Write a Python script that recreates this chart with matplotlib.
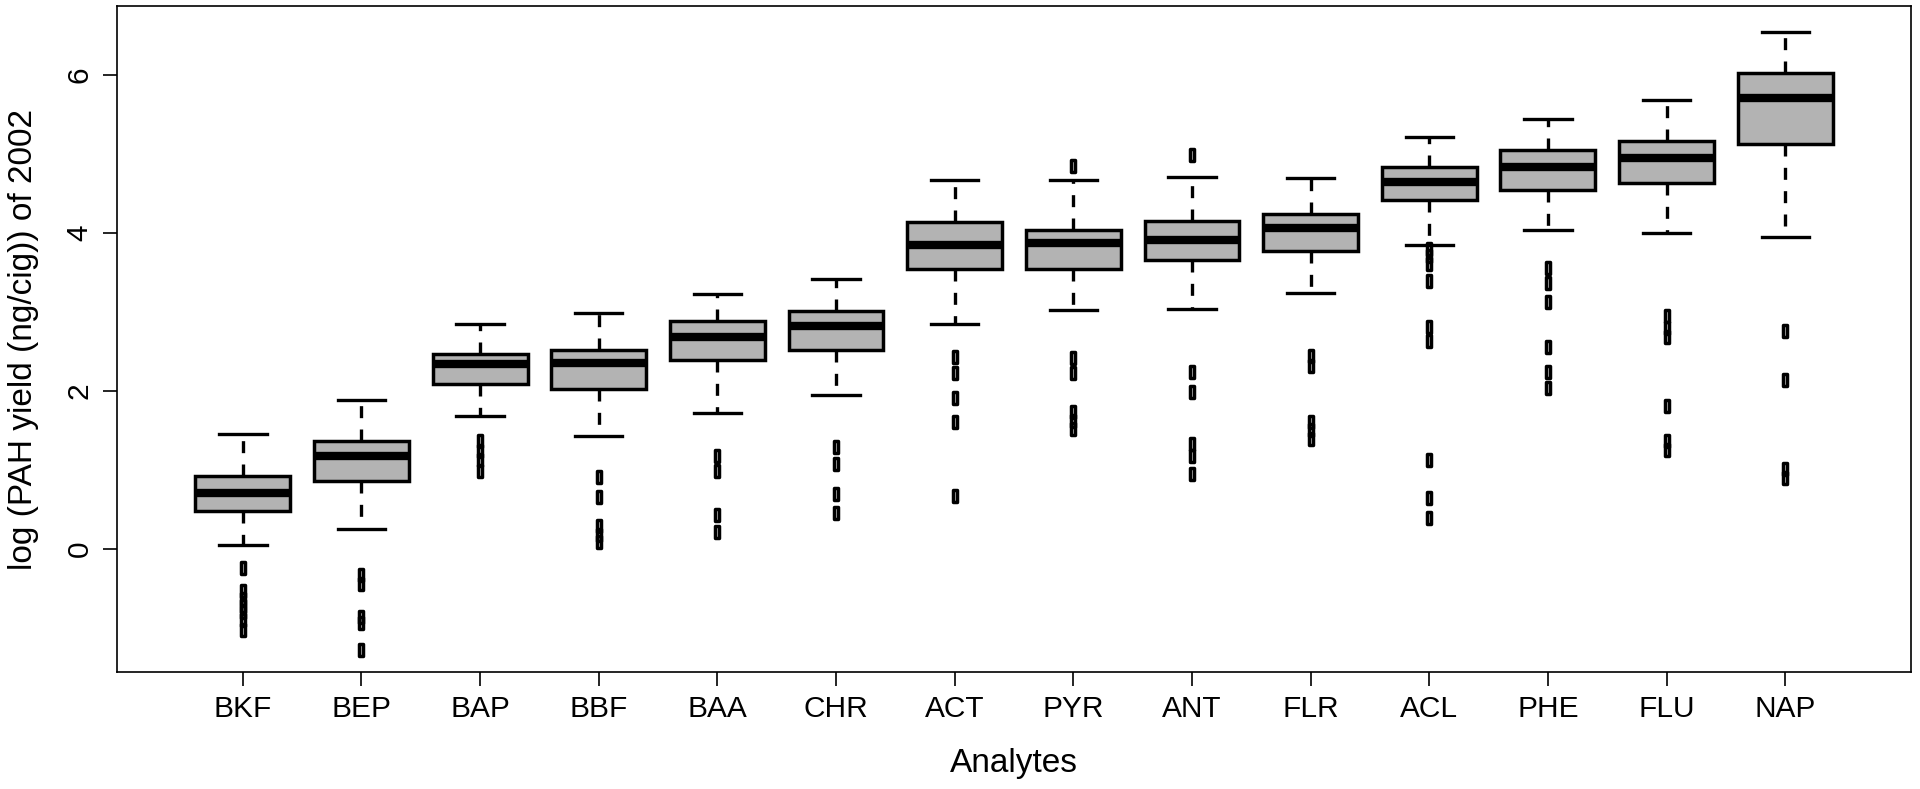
import matplotlib.pyplot as plt
from matplotlib.path import Path
from matplotlib.markers import MarkerStyle

# Box statistics (log PAH yield, ng/cig, 2002)
analytes = ['BKF', 'BEP', 'BAP', 'BBF', 'BAA', 'CHR', 'ACT',
            'PYR', 'ANT', 'FLR', 'ACL', 'PHE', 'FLU', 'NAP']
whis_lo = [0.05, 0.25, 1.68, 1.43, 1.72, 1.94, 2.84, 3.02, 3.03, 3.24, 3.84, 4.03, 4.00, 3.94]
q1 = [0.48, 0.86, 2.08, 2.02, 2.39, 2.51, 3.54, 3.54, 3.65, 3.77, 4.42, 4.54, 4.63, 5.12]
median = [0.71, 1.17, 2.34, 2.35, 2.68, 2.82, 3.85, 3.87, 3.91, 4.06, 4.64, 4.83, 4.94, 5.71]
q3 = [0.92, 1.36, 2.47, 2.51, 2.88, 3.01, 4.13, 4.03, 4.15, 4.24, 4.83, 5.05, 5.16, 6.02]
whis_hi = [1.45, 1.88, 2.84, 2.98, 3.23, 3.41, 4.67, 4.67, 4.70, 4.69, 5.21, 5.44, 5.68, 6.54]
outliers = [
    [-0.24, -0.53, -0.63, -0.72, -0.80, -0.90, -1.03],
    [-0.33, -0.45, -0.86, -0.94, -1.28],
    [1.36, 1.24, 1.12, 0.99],
    [0.91, 0.66, 0.29, 0.18, 0.08],
    [1.18, 0.99, 0.43, 0.21],
    [1.29, 1.07, 0.69, 0.45],
    [2.43, 2.23, 1.91, 1.60, 0.67],
    [4.84, 2.41, 2.22, 1.73, 1.62, 1.52],
    [4.98, 2.24, 1.98, 1.32, 1.18, 0.95],
    [2.44, 2.31, 1.60, 1.50, 1.39],
    [3.80, 3.70, 3.60, 3.39, 2.81, 2.63, 1.12, 0.64, 0.39],
    [3.55, 3.36, 3.12, 2.56, 2.24, 2.04],
    [2.94, 2.80, 2.68, 1.81, 1.36, 1.25],
    [2.76, 2.13, 1.01, 0.89],
]

stats = []
for i, name in enumerate(analytes):
    stats.append(dict(label=name, whislo=whis_lo[i], q1=q1[i], med=median[i],
                      q3=q3[i], whishi=whis_hi[i], fliers=outliers[i]))

# squashed open circle from the R output ends up looking like a narrow slot
slot = Path([(-0.3, -1), (0.3, -1), (0.3, 1), (-0.3, 1), (-0.3, -1)], closed=True)
slot_marker = MarkerStyle(slot, joinstyle='round')

plt.rcParams['font.family'] = ['Liberation Sans', 'DejaVu Sans']

fig = plt.figure(figsize=(19.2, 7.89), dpi=100)
ax = fig.add_axes([117 / 1920, 1 - 672 / 789, 1794 / 1920, 666 / 789])

ax.bxp(stats, positions=range(1, len(analytes) + 1), widths=0.8, capwidths=0.4,
       patch_artist=True,
       boxprops=dict(facecolor='#b3b3b3', edgecolor='black', linewidth=2.5),
       medianprops=dict(color='black', linewidth=6, solid_capstyle='butt'),
       whiskerprops=dict(color='black', linewidth=2.4, linestyle=(0, (3.6, 3.4))),
       capprops=dict(color='black', linewidth=2.4),
       flierprops=dict(marker=slot_marker, markersize=8.5, markerfacecolor='none',
                       markeredgecolor='black', markeredgewidth=2.5))

ax.set_xlim(-0.06, 15.06)
ax.set_ylim(-1.56, 6.87)
ax.set_yticks([0, 2, 4, 6])
ax.set_yticklabels(['0', '2', '4', '6'], rotation=90, va='center')

ax.tick_params(axis='both', length=10, width=1.2, labelsize=21.5, color='black')
ax.tick_params(axis='x', pad=6.5)
ax.tick_params(axis='y', pad=7)
for s in ax.spines.values():
    s.set_linewidth(1.2)

ax.set_xlabel('Analytes', fontsize=24)
ax.set_ylabel('log (PAH yield (ng/cig)) of 2002', fontsize=24)
ax.xaxis.set_label_coords(0.5, -0.114)
ax.yaxis.set_label_coords(-0.0435, 0.5)

fig.savefig('out.png', dpi=100)
